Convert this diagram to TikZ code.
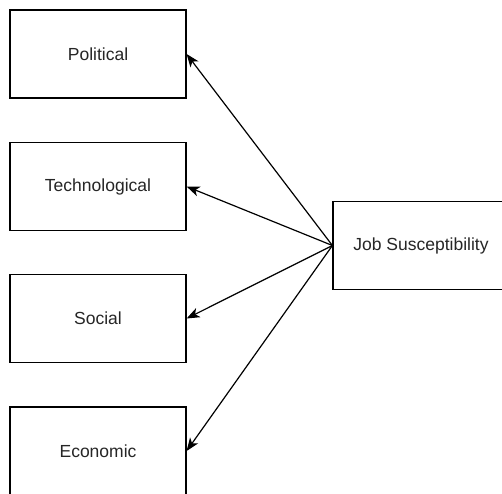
\documentclass[tikz,border=0pt]{standalone}
\usepackage{fontspec}
\setmainfont{Liberation Sans}
\usetikzlibrary{arrows.meta}

\begin{document}
\begin{tikzpicture}[x=1pt,y=-1pt,
    factor/.style={draw, line width=1.2pt, minimum width=176pt, minimum height=88pt,
      inner sep=0pt, text=black!85, font=\fontsize{17.5}{21}\selectfont},
    link/.style={-{Stealth[length=13pt,width=10pt,inset=3.5pt]}, line width=1.2pt}]
      \clip (0,0) rectangle (502,493);
      \fill[white] (0,0) rectangle (502,493);
      % factors on the left
      \node[factor] (pol) at (98,54) {Political};
      \node[factor] (tech) at (98,186.5) {Technological};
      \node[factor] (soc) at (98,318.5) {Social};
      \node[factor] (eco) at (98,451) {Economic};
      % outcome
      \node[factor] (job) at (421,245.5) {Job Susceptibility};
      \draw[link] (job.west) -- (pol.east);
      \draw[link] (job.west) -- (tech.east);
      \draw[link] (job.west) -- (soc.east);
      \draw[link] (job.west) -- (eco.east);
    \end{tikzpicture}
\end{document}
